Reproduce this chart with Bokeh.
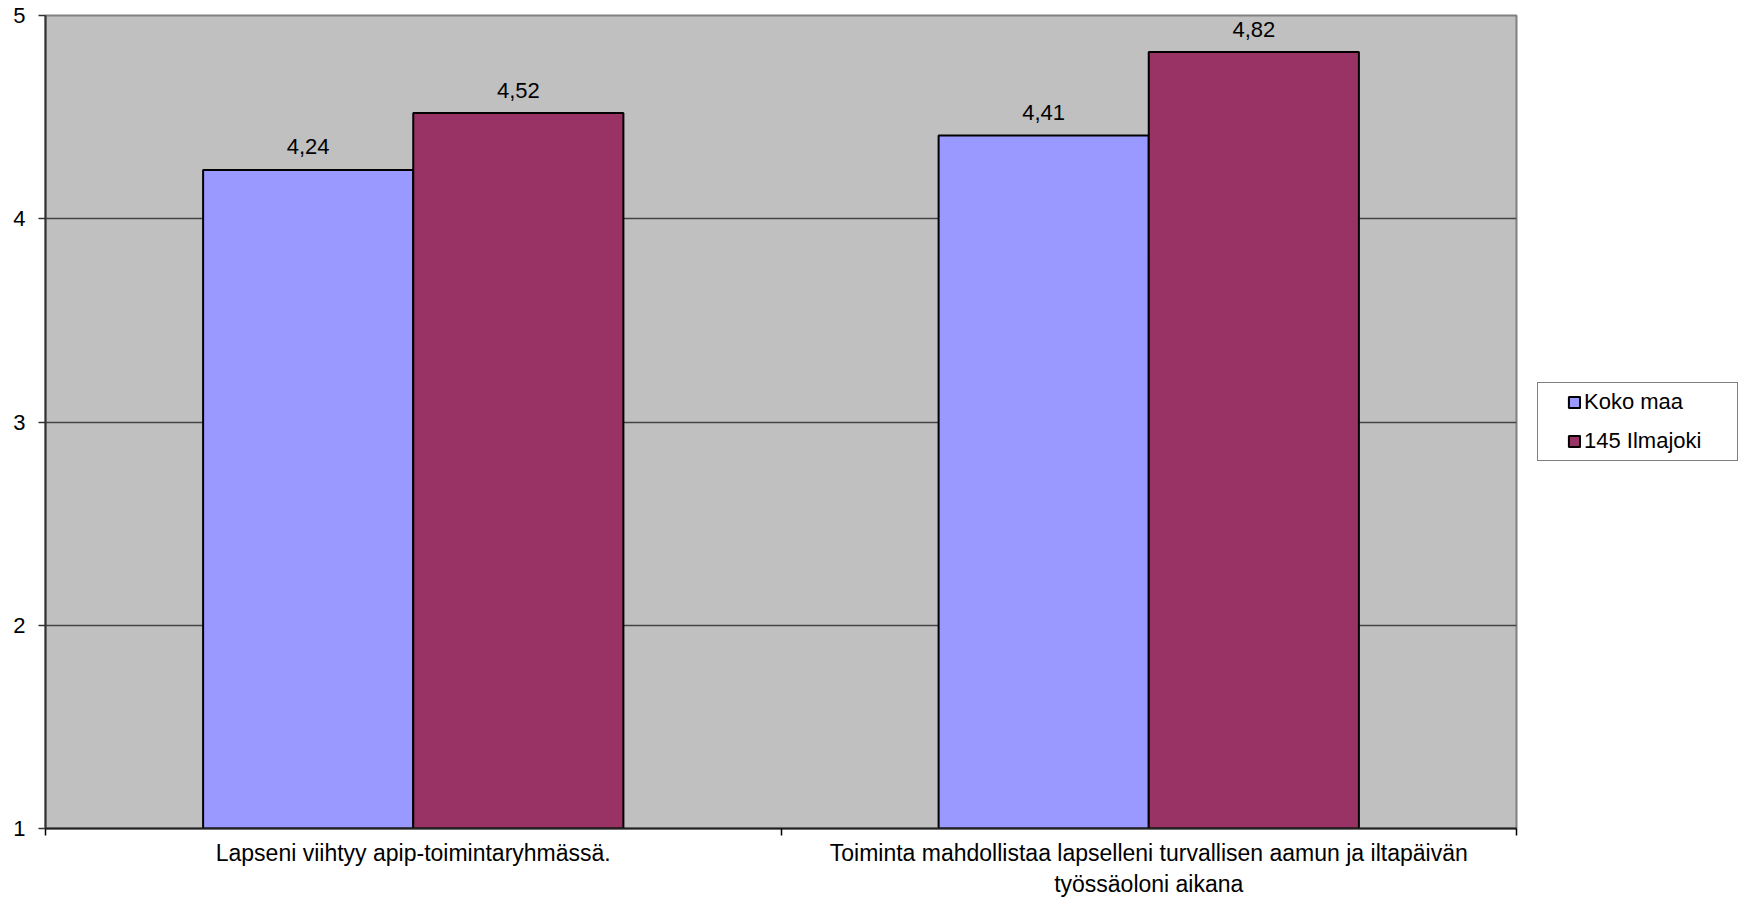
from bokeh.plotting import figure
from bokeh.layouts import row
from bokeh.models import ColumnDataSource, FixedTicker, Legend, LegendItem, Range1d
from bokeh.transform import dodge
from bokeh.core.properties import value
from bokeh.embed import file_html
from bokeh.resources import INLINE

# ---- data ----
categories = [
    "Lapseni viihtyy apip-toimintaryhmässä.",
    "Toiminta mahdollistaa lapselleni turvallisen aamun ja iltapäivän\ntyössäoloni aikana",
]
series_names = ["Koko maa", "145 Ilmajoki"]
koko_maa = [4.24, 4.41]
ilmajoki = [4.52, 4.82]
y_ticks = [1, 2, 3, 4, 5]
colors = ["#9999FF", "#993366"]

FONT = "Liberation Sans"

pos = [i + 0.5 for i in range(len(categories))]
src = ColumnDataSource(dict(
    x=pos,
    koko=koko_maa,
    ilma=ilmajoki,
    koko_lbl=[f"{v:.2f}".replace(".", ",") for v in koko_maa],
    ilma_lbl=[f"{v:.2f}".replace(".", ",") for v in ilmajoki],
))

p = figure(
    width=1518, height=899,
    x_range=Range1d(0, len(categories)), y_range=Range1d(1, 5),
    output_backend="svg", toolbar_location=None,
    min_border_left=45, min_border_top=15, min_border_right=2, min_border_bottom=0,
    background_fill_color="#C0C0C0", border_fill_color="white",
)
p.outline_line_color = "#808080"
p.outline_line_width = 2

bw = 1 / 3.5
r1 = p.vbar(x=dodge("x", -bw / 2), top="koko", bottom=1, width=bw, source=src,
            fill_color=colors[0], line_color="black", line_width=2)
r2 = p.vbar(x=dodge("x", bw / 2), top="ilma", bottom=1, width=bw, source=src,
            fill_color=colors[1], line_color="black", line_width=2)

for col, lbl, off in (("koko", "koko_lbl", -bw / 2), ("ilma", "ilma_lbl", bw / 2)):
    p.text(x=dodge("x", off), y=col, text=lbl, source=src,
           text_align="center", text_baseline="alphabetic", y_offset=-23,
           text_font=value(FONT), text_font_size="22px", text_color="black")

# y axis
p.yaxis.ticker = FixedTicker(ticks=y_ticks)
p.yaxis.major_label_text_font = FONT
p.yaxis.major_label_text_font_size = "22px"
p.yaxis.major_label_text_color = "black"
p.yaxis.major_tick_out = 7
p.yaxis.major_tick_in = 0
p.yaxis.minor_tick_line_color = None
p.yaxis.axis_line_color = "#333333"
p.yaxis.axis_line_width = 2
p.yaxis.major_tick_line_color = "#333333"
p.yaxis.major_tick_line_width = 1.5
p.yaxis.major_label_standoff = 13

# x axis
p.xaxis.ticker = FixedTicker(ticks=pos, minor_ticks=[0, 1, 2])
p.xaxis.major_label_overrides = {pos[i]: categories[i] for i in range(len(categories))}
p.xaxis.major_label_text_font = FONT
p.xaxis.major_label_text_font_size = "23px"
p.xaxis.major_label_text_color = "black"
p.xaxis.major_label_text_align = "center"
p.xaxis.major_tick_out = 0
p.xaxis.major_tick_in = 0
p.xaxis.minor_tick_out = 7
p.xaxis.minor_tick_in = 0
p.xaxis.minor_tick_line_color = "black"
p.xaxis.minor_tick_line_width = 1.5
p.xaxis.axis_line_color = "#222222"
p.xaxis.axis_line_width = 2
p.xaxis.major_label_standoff = 4

p.xgrid.grid_line_color = None
p.ygrid.ticker = FixedTicker(ticks=y_ticks)
p.ygrid.grid_line_color = "#444444"
p.ygrid.grid_line_width = 1.5

# ---- legend panel (separate figure to the right) ----
# same series renderers, hidden, so only their legend glyphs appear
lp = figure(
    width=223, height=899, x_range=Range1d(0, len(categories)), y_range=Range1d(1, 5),
    output_backend="svg", toolbar_location=None, min_border=0,
    background_fill_color="white", border_fill_color="white",
)
lp.axis.visible = False
lp.grid.visible = False
lp.outline_line_color = None
k1 = lp.vbar(x=dodge("x", -bw / 2), top="koko", bottom=1, width=bw, source=src,
             fill_color=colors[0], line_color="black", line_width=2, visible=False)
k2 = lp.vbar(x=dodge("x", bw / 2), top="ilma", bottom=1, width=bw, source=src,
             fill_color=colors[1], line_color="black", line_width=2, visible=False)

legend = Legend(
    items=[LegendItem(label=series_names[0], renderers=[k1]),
           LegendItem(label=series_names[1], renderers=[k2])],
    location=(19, 367),
    title=" ", title_location="left", title_text_font_size="14px", title_standoff=7,
    border_line_color="black", border_line_width=1,
    background_fill_color="white", background_fill_alpha=1,
    label_text_font=FONT, label_text_font_size="22px", label_text_color="black",
    glyph_width=14, glyph_height=14, label_standoff=3, label_width=147,
    padding=6, spacing=13, margin=0,
    inactive_fill_alpha=0,
)
lp.add_layout(legend)

layout = row(p, lp, spacing=0)
open("out.html", "w").write(file_html(layout, INLINE))
